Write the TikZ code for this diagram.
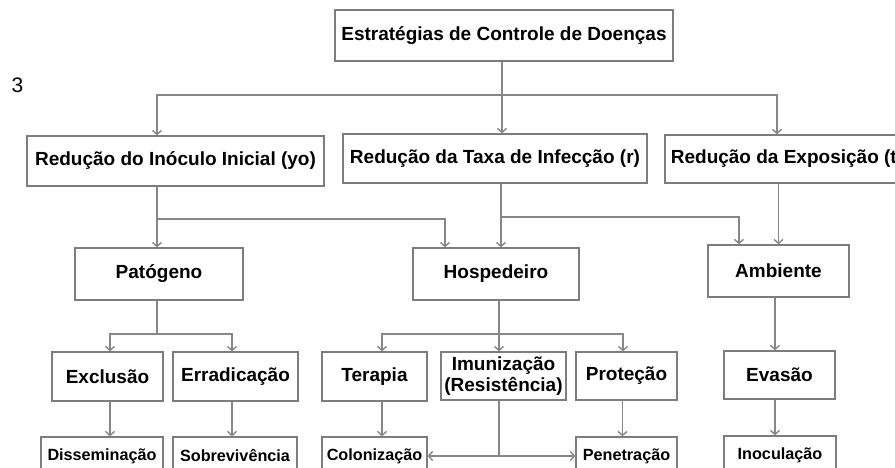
\documentclass[tikz,border=0pt]{standalone}
\usepackage{fontspec}
\setmainfont{Liberation Sans}
\usetikzlibrary{arrows.meta}
\definecolor{lc}{RGB}{135,135,135}
\definecolor{bc}{RGB}{125,125,125}
\tikzset{
  box/.style={draw=bc, line width=1.3pt, fill=white, inner sep=0pt, align=center,
    font=\fontsize{19}{22}\selectfont\bfseries},
  smallbox/.style={box, font=\fontsize{16.2}{19}\selectfont\bfseries},
  ln/.style={draw=lc, line width=1.4pt},
  arr/.style={ln, -{Straight Barb[length=4pt,width=9pt]}}
}
\begin{document}
\begin{tikzpicture}[x=1pt,y=-1pt]
\clip (0,0) rectangle (895,468);
\fill[white] (0,0) rectangle (895,468);
% nodes
\node[box, minimum width=338pt, minimum height=51pt] (top) at (504,35.5) {Estratégias de Controle de Doenças};
\node[box, minimum width=297pt, minimum height=50pt] (inoc) at (175.5,161) {Redução do Inóculo Inicial (yo)};
\node[box, minimum width=304pt, minimum height=49pt] (taxa) at (495,158.5) {Redução da Taxa de Infecção (r)};
\node[box, minimum width=244pt, minimum height=48pt] (expo) at (787,159) {Redução da Exposição (t)};
\node[box, minimum width=168pt, minimum height=52pt] (pat) at (159,274) {Patógeno};
\node[box, minimum width=166pt, minimum height=52pt] (hosp) at (496,274) {Hospedeiro};
\node[box, minimum width=141pt, minimum height=52pt] (amb) at (778.5,271) {Ambiente};
\node[box, minimum width=111pt, minimum height=49pt] (excl) at (107.5,376.5) {Exclusão};
\node[box, minimum width=125pt, minimum height=49pt] (errad) at (235.5,376.5) {Erradicação};
\node[box, minimum width=105pt, minimum height=49pt] (ter) at (374.5,376.5) {Terapia};
\node[box, minimum width=125pt, minimum height=48pt, font=\fontsize{19}{21}\selectfont\bfseries] (imun) at (503.5,376) {Imunização\\(Resistência)};
\node[box, minimum width=101pt, minimum height=48pt] (prot) at (626.5,376) {Proteção};
\node[box, minimum width=111pt, minimum height=48pt] (evas) at (779.5,375) {Evasão};
\node[smallbox, minimum width=122pt, minimum height=38pt] (diss) at (102,456) {Disseminação};
\node[smallbox, minimum width=124pt, minimum height=38pt] (sobr) at (235,456) {Sobrevivência};
\node[smallbox, minimum width=105pt, minimum height=38pt] (col) at (374.5,456) {Colonização};
\node[smallbox, minimum width=101pt, minimum height=38pt] (pen) at (626.5,456) {Penetração};
\node[smallbox, minimum width=112pt, minimum height=38pt] (inocu) at (780,455) {Inoculação};
\node[inner sep=0pt, font=\fontsize{21}{24}\selectfont] (three) at (17.5,85) {3};
% level 1
\coordinate (j0) at (502,95);
\draw[ln] (top.south -| j0) -- (j0);
\draw[arr] (j0) -| ([xshift=-18.5pt]inoc.north);
\draw[arr] (j0) -- (taxa.north -| j0);
\draw[arr] (j0) -| ([xshift=-10pt]expo.north);
% level 2
\coordinate (j1) at (157,219);
\draw[ln] (inoc.south -| j1) -- (j1);
\draw[arr] (j1) -- (pat.north -| j1);
\draw[arr] (j1) -| ([xshift=-51pt]hosp.north);
\coordinate (j2) at (501,217);
\draw[arr] (taxa.south -| j2) -- (hosp.north -| j2);
\draw[arr] (j2) -| ([xshift=-39.5pt]amb.north);
\draw[arr] (expo.south -| amb.north) -- (amb.north);
% level 3
\coordinate (j3) at (157,334);
\draw[ln] (pat.south -| j3) -- (j3);
\draw[arr] (j3) -| ([xshift=2.5pt]excl.north);
\draw[arr] (j3) -| ([xshift=-3.5pt]errad.north);
\coordinate (j4) at (499,334);
\draw[ln] (hosp.south -| j4) -- (j4);
\draw[arr] (j4) -| ([xshift=7.5pt]ter.north);
\draw[arr] (j4) -- (imun.north -| j4);
\draw[arr] (j4) -| ([xshift=-3.5pt]prot.north);
\coordinate (c5) at (775,0);
\draw[arr] (amb.south -| c5) -- (evas.north -| c5);
% level 4
\coordinate (c1) at (110,0);
\coordinate (c2) at (232,0);
\draw[arr] (excl.south -| c1) -- (diss.north -| c1);
\draw[arr] (errad.south -| c2) -- (sobr.north -| c2);
\draw[arr] ([xshift=7.5pt]ter.south) -- ([xshift=7.5pt]col.north);
\draw[arr] ([xshift=-4pt]prot.south) -- ([xshift=-4pt]pen.north);
\draw[arr] (evas.south -| c5) -- (inocu.north -| c5);
\coordinate (j6) at (499,456);
\draw[ln] (imun.south -| j6) -- (j6);
\draw[arr] (j6) -- (col.east);
\draw[arr] (j6) -- (pen.west);
\end{tikzpicture}
\end{document}
